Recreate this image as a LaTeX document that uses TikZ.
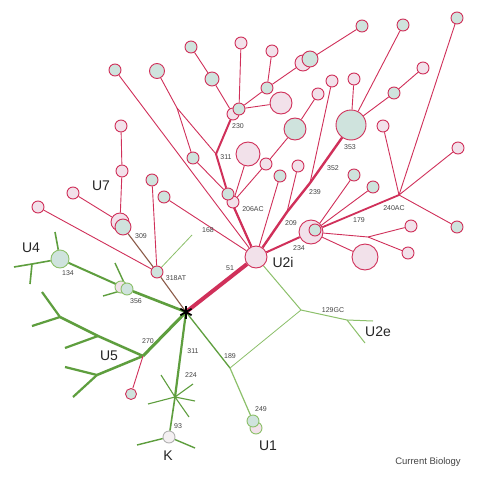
\documentclass[tikz,border=0pt]{standalone}
\usepackage{fontspec}
\setmainfont{Liberation Sans}
\definecolor{crim}{HTML}{D0305A}
\definecolor{pinkf}{HTML}{F2E1EA}
\definecolor{greenf}{HTML}{CFE3DD}
\definecolor{gline}{HTML}{5E9E3E}
\definecolor{glight}{HTML}{8CC06A}
\definecolor{brn}{HTML}{8A5A48}
\definecolor{lab}{HTML}{444444}
\pgfdeclarelayer{bg}
\pgfsetlayers{bg,main}
\begin{document}
\begin{tikzpicture}[x=1pt,y=-1pt,
  pc/.style={circle,draw=crim,fill=pinkf,line width=0.9pt,inner sep=0pt,minimum size=#1},
  pc/.default=12,
  gc/.style={circle,draw=crim,fill=greenf,line width=0.9pt,inner sep=0pt,minimum size=#1},
  gc/.default=12,
  rl/.style={draw=crim,line width=#1},
  rl/.default=0.9pt,
  gl/.style={draw=gline,line width=#1},
  gl/.default=1.5pt,
  ll/.style={draw=glight,line width=#1},
  ll/.default=0.9pt,
  bl/.style={draw=brn,line width=1.1pt},
  sm/.style={font=\fontsize{7}{8}\selectfont,text=lab,inner sep=0pt},
  big/.style={font=\fontsize{14}{16}\selectfont,text=black!85,inner sep=0pt}]
\useasboundingbox (0,0) rectangle (478,476);

% ---------- red tree nodes ----------
\coordinate (star) at (186,312);
\node[pc=22] (U2i) at (256,257) {};
\node[pc=12] (p206) at (233,202) {};
\node[gc=12] (g206) at (228,194) {};
\coordinate (j311) at (216,154);
\node[pc=12] (p230) at (233,114) {};
\node[gc=12] (g230) at (239,109) {};
\coordinate (j177) at (177,108);
\node[gc=15] (g157) at (157,71) {};
\node[gc=12] (g193) at (193,158) {};
\node[gc=12] (g115) at (115,70) {};
\node[pc=12] (p241) at (241,43) {};
\node[gc=14] (g212) at (212,79) {};
\node[gc=12] (g191) at (191,47) {};
\node[gc=12] (g267) at (267,88) {};
\node[pc=16] (p303) at (303,63) {};
\node[gc=16] (g310) at (310,59) {};
\node[gc=12] (g362) at (362,26) {};
\node[pc=12] (p272) at (272,51) {};
\node[pc=22] (p281) at (281,103) {};
\node[pc=24] (p248) at (248,154) {};
\node[pc=12] (p266) at (266,164) {};
\node[gc=22] (g295) at (295,129) {};
\node[pc=12] (p318) at (318,94) {};
\node[gc=12] (g280) at (280,176) {};
\coordinate (j209) at (287,212);
\coordinate (j239) at (310,183);
\node[pc=12] (p298) at (298,166) {};
\node[pc=12] (p332) at (332,81) {};
\node[gc=30] (g353) at (351,125) {};
\node[pc=12] (p354) at (354,79) {};
\node[gc=12] (g403) at (403,25) {};
\node[gc=12] (g394) at (394,93) {};
\node[pc=12] (p423) at (423,68) {};
\node[pc=24] (p234) at (311,232) {};
\node[gc=12] (g234) at (315,230) {};
\node[gc=12] (g354) at (354,175) {};
\node[gc=12] (g373) at (373,187) {};
\coordinate (j240) at (399,195);
\node[pc=12] (p383) at (383,126) {};
\node[gc=12] (g457t) at (457,18) {};
\node[pc=12] (p458) at (458,148) {};
\node[gc=12] (g457b) at (457,227) {};
\coordinate (j368) at (368,237);
\node[pc=12] (p411) at (411,226) {};
\node[pc=12] (p408) at (408,253) {};
\node[pc=26] (p365) at (365,257) {};
\node[gc=12] (g164) at (164,197) {};
\node[gc=12] (n318) at (157,272) {};
\node[gc=12] (g152) at (152,180) {};
\node[pc=12] (p38) at (38,207) {};
\node[pc=18] (p120) at (120,222) {};
\node[gc=16] (g123) at (123,227) {};
\node[pc=12] (p73) at (73,193) {};
\node[pc=12] (p122) at (122,171) {};
\node[pc=12] (p121) at (121,126) {};

% ---------- green tree nodes ----------
\node[pc=12,draw=glight] (p356) at (121,287) {};
\node[gc=12,draw=glight] (g356) at (127,289) {};
\node[gc=18,draw=glight] (n134) at (60,259) {};
\coordinate (a1) at (115,263);
\coordinate (a2) at (103,296);
\coordinate (a3) at (55,232);
\coordinate (j32) at (32,264);
\coordinate (a4) at (14,267);
\coordinate (a5) at (30,284);
\coordinate (jU5) at (143,356);
\coordinate (jA) at (98,336);
\coordinate (jB) at (60,317);
\coordinate (b1) at (42,292);
\coordinate (b2) at (32,326);
\coordinate (b3) at (65,348);
\coordinate (jC) at (97,375);
\coordinate (b4) at (65,367);
\coordinate (b5) at (73,397);
\node[gc=11] (gU5) at (131,394) {};
\coordinate (j224) at (175,397);
\coordinate (c1) at (161,375);
\coordinate (c2) at (193,384);
\coordinate (c3) at (195,401);
\coordinate (c4) at (189,417);
\coordinate (c5) at (148,404);
\node[pc=12,draw=gray!60,fill=pinkf!80!gray!30] (K) at (169,437) {};
\coordinate (d1) at (137,445);
\coordinate (d2) at (195,448);
\coordinate (j189) at (230,368);
\node[pc=12,draw=glight] (pU1) at (256,428) {};
\node[gc=12,draw=glight] (gU1) at (253,421) {};
\coordinate (j129) at (301,310);
\coordinate (j347) at (347,320);
\coordinate (e1) at (373,321);
\coordinate (e2) at (365,343);
\coordinate (f1) at (192,235);

\begin{pgfonlayer}{bg}
\fill[white] (0,0) rectangle (478,476);
% red thick
\draw[rl=4pt] (star) -- (U2i);
\draw[rl=2.4pt] (U2i) -- (j209) -- (j239) -- (g353);
\draw[rl=2.2pt] (U2i) -- (g206);
\draw[rl=2pt] (g206) -- (j311) -- (p230);
\draw[rl=2pt] (U2i) -- (p234);
\draw[rl=1.8pt] (p234) -- (j240);
% red thin
\draw[rl] (j311) -- (j177) -- (g157);
\draw[rl] (j177) -- (g193) -- (g206);
\draw[rl] (g115) -- (U2i);
\draw[rl] (g164) -- (U2i);
\draw[rl] (g230) -- (p241);
\draw[rl] (p230) -- (g212) -- (g191);
\draw[rl] (g230) -- (g267) -- (p303);
\draw[rl] (g310) -- (g362);
\draw[rl] (g267) -- (p272);
\draw[rl] (g230) -- (p281);
\draw[rl] (p206) -- (p248);
\draw[rl] (p206) -- (p266) -- (g295) -- (p318);
\draw[rl] (U2i) -- (g280);
\draw[rl] (j209) -- (p298);
\draw[rl] (j239) -- (p332);
\draw[rl] (g353) -- (p354);
\draw[rl] (g353) -- (g403);
\draw[rl] (g353) -- (g394) -- (p423);
\draw[rl] (g234) -- (g354);
\draw[rl] (g234) -- (g373);
\draw[rl] (j240) -- (p383);
\draw[rl] (j240) -- (g457t);
\draw[rl] (j240) -- (p458);
\draw[rl] (j240) -- (g457b);
\draw[rl] (p234) -- (j368) -- (p411);
\draw[rl] (j368) -- (p408);
\draw[rl] (p234) -- (p365);
\draw[rl] (n318) -- (g152);
\draw[rl] (n318) -- (p38);
\draw[rl] (p120) -- (p73);
\draw[rl] (p120) -- (p122) -- (p121);
\draw[bl] (g123) -- (n318);
\draw[bl] (n318) -- (star);
\draw[ll=0.8pt] (n318) -- (f1);
% green
\draw[gl=2.6pt] (star) -- (g356);
\draw[gl=2pt] (g356) -- (n134);
\draw[gl=1.4pt] (g356) -- (a1);
\draw[gl=1.4pt] (g356) -- (a2);
\draw[gl=1.6pt] (n134) -- (a3);
\draw[gl=1.6pt] (n134) -- (j32) -- (a4);
\draw[gl=1.6pt] (j32) -- (a5);
\draw[gl=3pt] (star) -- (jU5);
\draw[gl=2.5pt] (jU5) -- (jA) -- (jB);
\draw[gl=2.2pt] (jB) -- (b1);
\draw[gl=2.2pt] (jB) -- (b2);
\draw[gl=2.2pt] (jA) -- (b3);
\draw[gl=2.5pt] (jU5) -- (jC);
\draw[gl=2.2pt] (jC) -- (b4);
\draw[gl=2.2pt] (jC) -- (b5);
\draw[rl] (jU5) -- (gU5);
\draw[gl=2.2pt] (star) -- (j224);
\draw[gl=1.6pt] (j224) -- (K);
\foreach \c in {c1,c2,c3,c4,c5} \draw[gl=1.1pt] (j224) -- (\c);
\draw[gl=1.4pt] (K) -- (d1);
\draw[gl=1.4pt] (K) -- (d2);
\draw[gl=1.3pt] (star) -- (j189);
\draw[ll=1.2pt] (j189) -- (gU1);
\draw[ll=0.8pt] (j189) -- (j129);
\draw[ll=1pt] (j129) -- (U2i);
\draw[ll=1pt] (j129) -- (j347) -- (e1);
\draw[ll=1pt] (j347) -- (e2);
\end{pgfonlayer}

% star
\foreach \a in {90,30,150} \draw[black,line width=1.8pt] (star) ++(\a:-6.5) -- ++(\a:13);

% ---------- labels ----------
\node[sm] (l51) at (230,268) {51};
\node[sm] (l168) at (208,230) {168};
\node[sm] (l309) at (141,236) {309};
\node[sm] (l318) at (176,278) {318AT};
\node[sm] (l206) at (253,209) {206AC};
\node[sm] (l311a) at (226,157) {311};
\node[sm] (l230) at (238,126) {230};
\node[sm] (l209) at (291,223) {209};
\node[sm] (l234) at (299,248) {234};
\node[sm] (l239) at (315,192) {239};
\node[sm] (l352) at (333,168) {352};
\node[sm] (l353) at (350,147) {353};
\node[sm] (l179) at (359,220) {179};
\node[sm] (l240) at (394,208) {240AC};
\node[sm] (l134) at (68,273) {134};
\node[sm] (l356) at (136,301) {356};
\node[sm] (l270) at (148,341) {270};
\node[sm] (l311b) at (193,351) {311};
\node[sm] (l189) at (230,356) {189};
\node[sm] (l224) at (191,375) {224};
\node[sm] (l93) at (178,426) {93};
\node[sm] (l249) at (261,409) {249};
\node[sm] (l129) at (333,310) {129GC};
\node[big] (tU7) at (101,186) {U7};
\node[big] (tU4) at (31,248) {U4};
\node[big] (tU2i) at (283,262) {U2i};
\node[big] (tU5) at (109,356) {U5};
\node[big] (tK) at (168,456) {K};
\node[big] (tU1) at (268,446) {U1};
\node[big] (tU2e) at (378,332) {U2e};
\node[font=\fontsize{9.5}{11}\selectfont,text=lab,inner sep=0pt] (cb) at (428,462) {Current Biology};
\end{tikzpicture}
\end{document}
